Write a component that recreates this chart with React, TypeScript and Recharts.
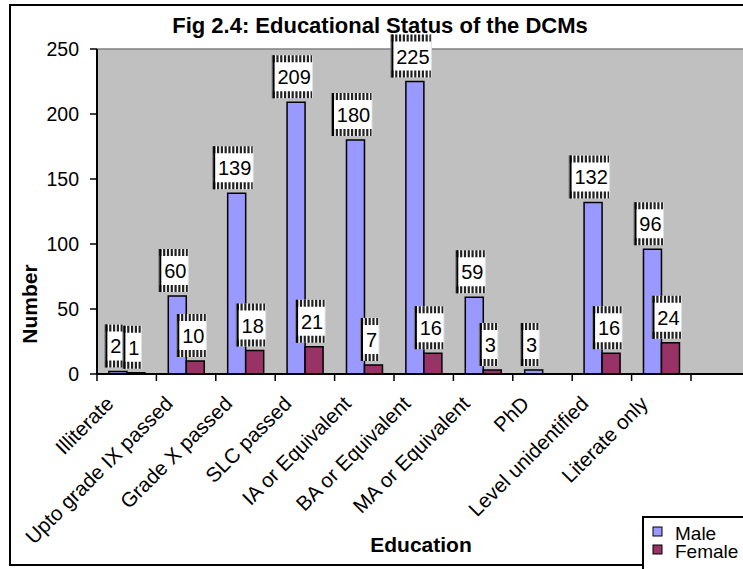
import React from 'react';
import { BarChart, Bar, XAxis, YAxis, CartesianGrid, ReferenceLine, LabelList } from 'recharts';

const categories = [
  'Illiterate',
  'Upto grade IX passed',
  'Grade X passed',
  'SLC passed',
  'IA or Equivalent',
  'BA or Equivalent',
  'MA or Equivalent',
  'PhD',
  'Level unidentified',
  'Literate only',
  '',
];
const maleValues = [2, 60, 139, 209, 180, 225, 59, 3, 132, 96, null];
const femaleValues = [1, 10, 18, 21, 7, 16, 3, null, 16, 24, null];
const yTicks = [0, 50, 100, 150, 200, 250];
const seriesNames = ['Male', 'Female'];
const seriesColors = ['#9999FF', '#993366'];

const FONT = '"Liberation Sans", Arial, sans-serif';
const PLOT_LEFT = 97;
const PLOT_RIGHT = 750.4;
const BAND = (PLOT_RIGHT - PLOT_LEFT) / categories.length;

const data = categories.map((name, i) => ({
  name,
  male: maleValues[i],
  female: femaleValues[i],
}));

// Excel style data label: white box with hatched top/bottom bands
function DataBox(props: any) {
  const { x, y, width, value } = props;
  if (value == null) return null;
  const s = String(value);
  const w = s.length * 11 + 7;
  const barCx = Number(x) + Number(width) / 2;
  const cx = barCx - 3.5;
  const h = 43;
  const bottom = Number(y) - 4;
  const top = bottom - h;
  const left = cx - w / 2;
  return (
    <g>
      <rect x={left} y={top} width={w} height={h} fill="#fff" />
      <line x1={left} x2={left + w} y1={top + 3.5} y2={top + 3.5} stroke="#222" strokeWidth={7} strokeDasharray="2.2 1.6" />
      <line x1={left} x2={left + w} y1={bottom - 3.5} y2={bottom - 3.5} stroke="#222" strokeWidth={7} strokeDasharray="2.2 1.6" />
      <line x1={left - 0.5} x2={left - 0.5} y1={top} y2={bottom} stroke="#808080" strokeWidth={1} />
      <line x1={left + 1} x2={left + 1} y1={top} y2={bottom} stroke="#000" strokeWidth={2} />
      <line x1={left + w} x2={left + w} y1={top} y2={bottom} stroke="#e0e0e0" strokeWidth={1} />
      <text x={barCx - 2} y={top + 29} textAnchor="middle" fontSize={20} fontFamily={FONT} fill="#000">
        {s}
      </text>
    </g>
  );
}

function XTick(props: any) {
  const { x, y, payload } = props;
  const tx = x - 12;
  const ty = y + 31;
  return (
    <g>
      <line x1={x - BAND / 2} x2={x - BAND / 2} y1={y} y2={y + 7} stroke="#000" strokeWidth={1.5} />
      {payload.value ? (
        <text
          x={tx}
          y={ty}
          transform={`rotate(-45 ${tx} ${ty})`}
          textAnchor="end"
          fontSize={20.5}
          fontFamily={FONT}
          fill="#000"
        >
          {payload.value}
        </text>
      ) : null}
    </g>
  );
}

export default function App() {
  return (
    <div style={{ position: 'absolute', left: 0, top: 0, width: 743, height: 569, overflow: 'hidden', background: '#fff' }}>
      <div
        style={{
          position: 'absolute',
          left: 9,
          top: 4,
          width: 800,
          height: 562,
          border: '2px solid #000',
          boxSizing: 'border-box',
        }}
      />
      <div style={{ position: 'absolute', left: 0, top: 0 }}>
        <BarChart
          width={760}
          height={569}
          data={data}
          margin={{ top: 49, right: 760 - PLOT_RIGHT, left: 0, bottom: 165 }}
          barCategoryGap="20%"
          barGap={0}
        >
          <CartesianGrid fill="#C0C0C0" horizontal={false} vertical={false} />
          <ReferenceLine y={250} stroke="#808080" strokeWidth={1.5} />
          <XAxis
            dataKey="name"
            height={30}
            interval={0}
            tickLine={false}
            tickSize={0}
            tickMargin={0}
            axisLine={{ stroke: '#000', strokeWidth: 2 }}
            tick={<XTick />}
          />
          <YAxis
            width={97}
            domain={[0, 250]}
            ticks={yTicks}
            tickSize={7}
            tickMargin={11}
            tickLine={{ stroke: '#000', strokeWidth: 1.5 }}
            axisLine={{ stroke: '#000', strokeWidth: 2 }}
            tick={{ fill: '#000', fontSize: 19.5, fontFamily: FONT }}
          />
          <Bar dataKey="male" name={seriesNames[0]} fill={seriesColors[0]} stroke="#000" strokeWidth={1.5} isAnimationActive={false}>
            <LabelList dataKey="male" content={<DataBox />} />
          </Bar>
          <Bar dataKey="female" name={seriesNames[1]} fill={seriesColors[1]} stroke="#000" strokeWidth={1.5} isAnimationActive={false}>
            <LabelList dataKey="female" content={<DataBox />} />
          </Bar>
        </BarChart>
      </div>
      <svg width={743} height={569} style={{ position: 'absolute', left: 0, top: 0, pointerEvents: 'none' }}>
        <text x={380} y={33} textAnchor="middle" fontSize={22} fontWeight="bold" fontFamily={FONT} fill="#000">
          Fig 2.4: Educational Status of the DCMs
        </text>
        <text x={37} y={304} transform="rotate(-90 37 304)" textAnchor="middle" fontSize={21} fontWeight="bold" fontFamily={FONT} fill="#000">
          Number
        </text>
        <text x={421} y={552} textAnchor="middle" fontSize={21} fontWeight="bold" fontFamily={FONT} fill="#000">
          Education
        </text>
        <rect x={643} y={517} width={120} height={60} fill="#fff" stroke="#000" strokeWidth={2} />
        {seriesNames.map((n, i) => (
          <g key={n}>
            <rect x={653} y={527 + i * 18} width={9} height={9} fill={seriesColors[i]} stroke="#000" strokeWidth={1} />
            <text x={675} y={540 + i * 18} fontSize={19} fontFamily={FONT} fill="#000">
              {n}
            </text>
          </g>
        ))}
      </svg>
    </div>
  );
}
